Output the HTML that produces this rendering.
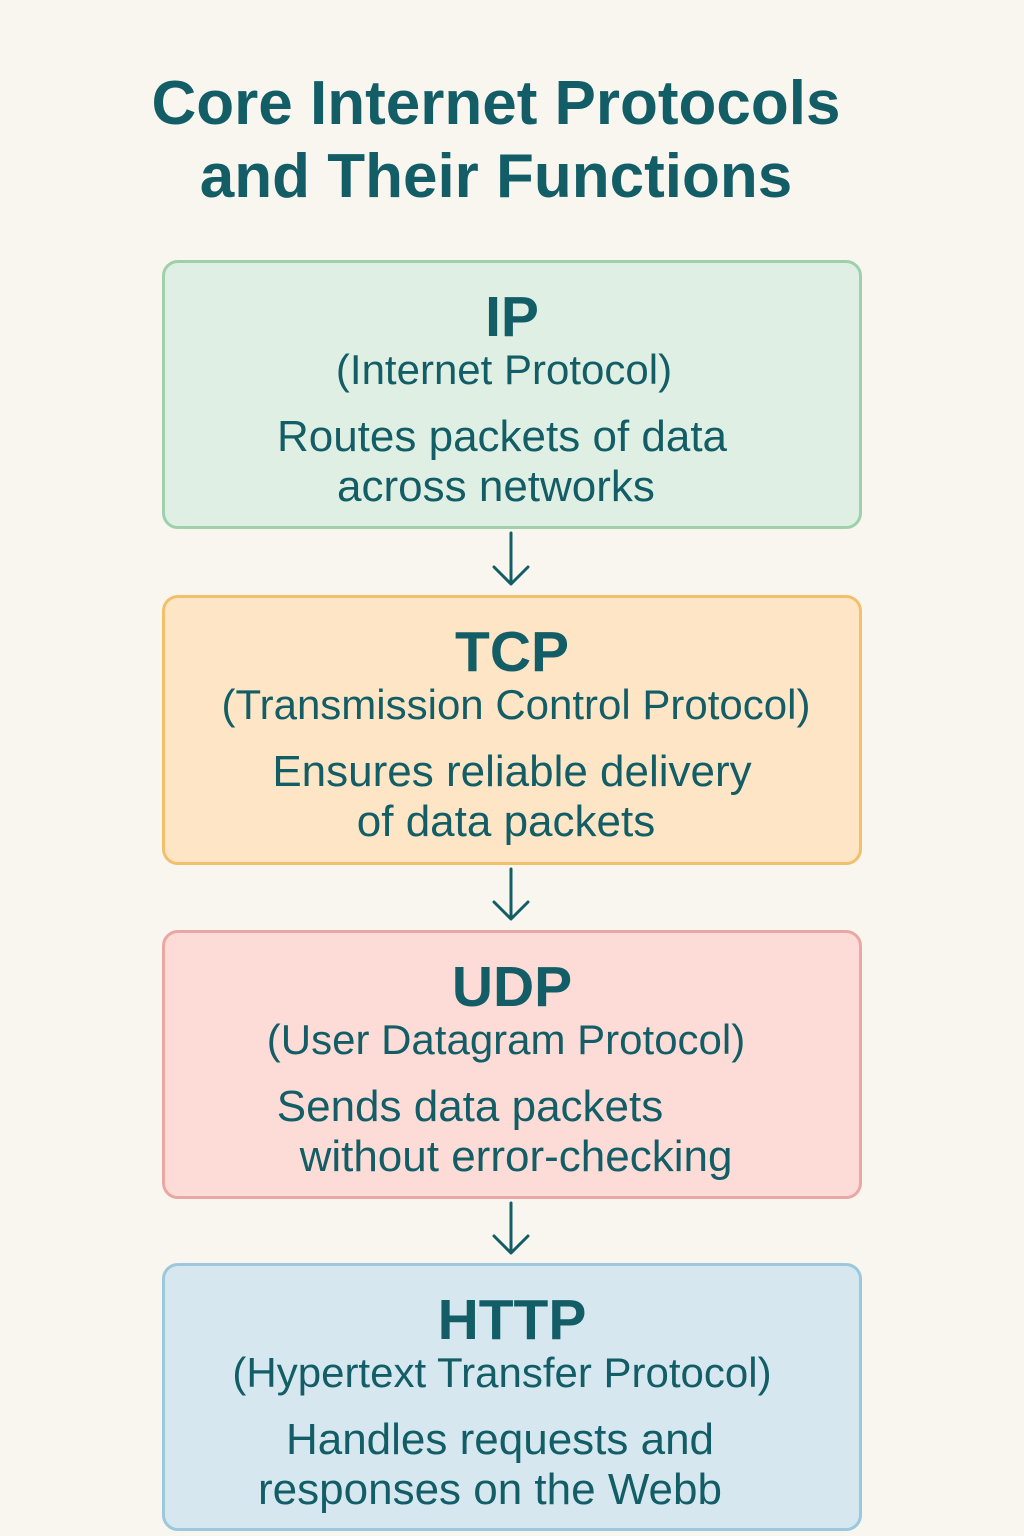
<!DOCTYPE html>
<html><head><style>
body{margin:0;width:1024px;height:1536px;background:#f9f5ef;font-family:"Liberation Sans",sans-serif;color:#135e66;position:relative;overflow:hidden}
.t{position:absolute;left:0;width:992px;text-align:center;font-weight:bold;font-size:62px;line-height:1}
.box{position:absolute;left:162px;width:700px;height:264px;border:3px solid;border-radius:16px;box-sizing:border-box}
.l{position:absolute;left:0;width:100%;text-align:center;white-space:nowrap;line-height:1}
.h{font-weight:bold;font-size:57px}
.s{font-size:42px}
.d{font-size:44px}
svg{position:absolute;left:0;top:0}
</style></head><body>
<div class="t" style="top:73px">Core Internet Protocols</div>
<div class="t" style="top:146px">and Their Functions</div>

<div class="box" style="top:260px;height:269px;background:#e0efe3;border-color:#9fd0ac">
<div class="l h" style="top:26px;left:0px">IP</div>
<div class="l s" style="top:86px;left:-8px">(Internet Protocol)</div>
<div class="l d" style="top:152px;left:-10px">Routes packets of data</div>
<div class="l d" style="top:202px;left:-16px">across networks</div>
</div>
<div class="box" style="top:595px;height:270px;background:#fde5c5;border-color:#f2c06b">
<div class="l h" style="top:26px">TCP</div>
<div class="l s" style="top:86px;left:4px">(Transmission Control Protocol)</div>
<div class="l d" style="top:152px">Ensures reliable delivery</div>
<div class="l d" style="top:202px;left:-6px">of data packets</div>
</div>
<div class="box" style="top:930px;height:269px;background:#fddcd7;border-color:#eba7a3">
<div class="l h" style="top:26px">UDP</div>
<div class="l s" style="top:86px;left:-6px">(User Datagram Protocol)</div>
<div class="l d" style="top:152px;left:-42px">Sends data packets</div>
<div class="l d" style="top:202px;left:4px">without error-checking</div>
</div>
<div class="box" style="top:1263px;height:268px;background:#d6e7ef;border-color:#9cc8de">
<div class="l h" style="top:26px">HTTP</div>
<div class="l s" style="top:86px;left:-10px">(Hypertext Transfer Protocol)</div>
<div class="l d" style="top:152px;left:-12px">Handles requests and</div>
<div class="l d" style="top:202px;left:-22px">responses on the Webb</div>
</div>

<svg width="1024" height="1536" fill="none" stroke="#135e66" stroke-width="3" stroke-linecap="round" stroke-linejoin="round">
<path d="M511 533V584M494 567L511 584L528 567"/>
<path d="M511 869V919M494 902L511 919L528 902"/>
<path d="M511 1203V1253M494 1236L511 1253L528 1236"/>
</svg>
</body></html>
